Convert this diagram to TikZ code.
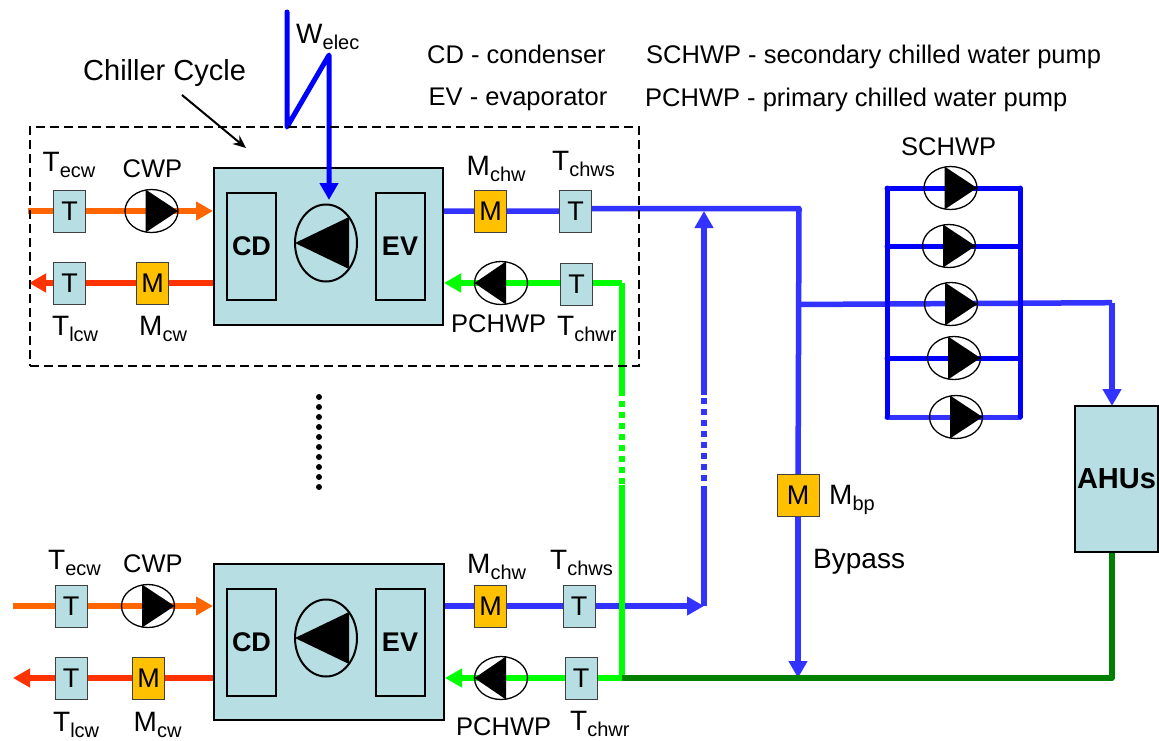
\documentclass[tikz,border=0pt]{standalone}
\usepackage{fontspec}
\setmainfont{Liberation Sans}
\usepackage{tikz}
\usetikzlibrary{shapes,arrows.meta,backgrounds}

\newcommand{\subtext}[2]{#1\raisebox{-6.5pt}{\fontsize{20}{20}\selectfont #2}}

\definecolor{chillerfill}{HTML}{B7DEE2}
\definecolor{meterfill}{HTML}{FFC000}
\definecolor{cwsupply}{HTML}{FF6600}
\definecolor{cwreturn}{HTML}{FF3300}
\definecolor{chwblue}{HTML}{3333FF}
\definecolor{darkreturn}{HTML}{008000}

\tikzset{
  pipetip/.style={-{Triangle[length=17pt,width=18pt]}},
  pipe/.style={line width=5.5pt,line join=round},
  cwpipe/.style={line width=6.5pt,line join=round},
  greenpipe/.style={line width=6pt,line join=round,green},
  elecpipe/.style={line width=5pt,blue,line join=round,line cap=round},
  sensorbox/.style={draw=black!75,line width=1pt,fill=chillerfill,minimum width=32pt,minimum height=42pt,inner sep=0pt,font=\fontsize{27}{27}\selectfont},
  meterbox/.style={draw=black!75,line width=1pt,fill=meterfill,minimum width=32pt,minimum height=42pt,inner sep=0pt,font=\fontsize{27}{27}\selectfont},
  unitbox/.style={draw,line width=2pt,minimum width=49pt,minimum height=107pt,inner sep=0pt,font=\bfseries\fontsize{27}{27}\selectfont},
  bigbox/.style={draw,line width=2pt,fill=chillerfill,inner sep=0pt},
  pumpright/.style={ellipse,draw,line width=1.3pt,minimum width=53pt,minimum height=43pt,inner sep=0pt,
    path picture={\fill ([xshift=-6pt]path picture bounding box.north) -- (path picture bounding box.east) -- ([xshift=-6pt]path picture bounding box.south) -- cycle;}},
  pumpleft/.style={ellipse,draw,line width=1.3pt,minimum width=53pt,minimum height=43pt,inner sep=0pt,
    path picture={\fill ([xshift=5pt]path picture bounding box.north) -- (path picture bounding box.west) -- ([xshift=5pt]path picture bounding box.south) -- cycle;}},
  compressor/.style={ellipse,draw,line width=2pt,minimum width=62pt,minimum height=77pt,inner sep=0pt,
    path picture={\fill (path picture bounding box.west) -- ([xshift=23pt,yshift=26pt]path picture bounding box.center) -- ([xshift=23pt,yshift=-26pt]path picture bounding box.center) -- cycle;}},
  lbl/.style={anchor=base west,inner sep=0pt,font=\fontsize{25.5}{25.5}\selectfont},
  symlbl/.style={anchor=base west,inner sep=0pt,font=\fontsize{28}{28}\selectfont}
}

\begin{document}
\begin{tikzpicture}[x=1pt,y=-1pt]
\useasboundingbox (0,0) rectangle (1159,740);

\begin{scope}[on background layer]
\node[bigbox,minimum width=229pt,minimum height=157pt] (chillerA) at (328.5,246.5) {};
\node[bigbox,minimum width=230pt,minimum height=156pt] (chillerB) at (329,642) {};
\end{scope}

% upper chiller
\node[unitbox] (cdA) at (251.5,246.5) {CD};
\node[unitbox] (evA) at (400,246.5) {EV};
\node[compressor] (compA) at (326,243) {};
\node[sensorbox] (tEcwA) at (69.5,211) {T};
\node[sensorbox] (tLcwA) at (69.5,283) {T};
\node[pumpright] (cwpA) at (151.5,211) {};
\node[meterbox] (mCwA) at (152.5,283) {M};
\node[meterbox] (mChwA) at (490.5,211) {M};
\node[sensorbox] (tChwsA) at (575.5,211) {T};
\node[pumpleft] (pchwpA) at (501,283) {};
\node[sensorbox] (tChwrA) at (576.5,284) {T};

% lower chiller
\node[unitbox] (cdB) at (251.5,642) {CD};
\node[unitbox] (evB) at (400,642) {EV};
\node[compressor] (compB) at (326,638) {};
\node[sensorbox] (tEcwB) at (71,606) {T};
\node[sensorbox] (tLcwB) at (71,678) {T};
\node[pumpright] (cwpB) at (148,606) {};
\node[meterbox] (mCwB) at (148.5,678) {M};
\node[meterbox] (mChwB) at (490.5,606) {M};
\node[sensorbox] (tChwsB) at (579,606) {T};
\node[pumpleft] (pchwpB) at (501,678) {};
\node[sensorbox] (tChwrB) at (581,678) {T};

% secondary pumps, bypass, AHUs
\node[pumpright] (schwpA) at (950.5,188) {};
\node[pumpright] (schwpB) at (949,246) {};
\node[pumpright] (schwpC) at (951,304) {};
\node[pumpright] (schwpD) at (954,358) {};
\node[pumpright] (schwpE) at (956,417) {};
\node[meterbox,minimum width=42pt] (mBp) at (798,495) {M};
\node[draw,line width=2pt,fill=chillerfill,minimum width=83pt,minimum height=146pt,inner sep=0pt,font=\bfseries\fontsize{29}{29}\selectfont] (ahus) at (1116.5,479) {AHUs};

\coordinate (ecwInA) at (28,211);
\coordinate (lcwOutA) at (29,283);
\coordinate (ecwInB) at (13,606);
\coordinate (lcwOutB) at (13,678);
\coordinate (supplyCorner) at (799,208.5);
\coordinate (bypassTee) at (798,304.5);
\coordinate (bypassEnd) at (798,678);
\coordinate (ahuCorner) at (1112,302.7);
\coordinate (ahuIn) at (1112,406);
\coordinate (ahuOut) at (1112,552);
\coordinate (returnCorner) at (1112,678);
\coordinate (greenTop) at (622,283);
\coordinate (greenB) at (622,390);
\coordinate (greenC) at (622,485);
\coordinate (greenEnd) at (622,678);
\coordinate (riserBottom) at (704,606);
\coordinate (riserB) at (704,492);
\coordinate (riserC) at (704,395);
\coordinate (riserTop) at (704,211);
\coordinate (railLT) at (887,188);
\coordinate (railLB) at (887,417);
\coordinate (railRT) at (1020,188);
\coordinate (railRB) at (1020,417);
\coordinate (railLtwo) at (887,246);
\coordinate (railRtwo) at (1020,246);
\coordinate (railLfour) at (887,358);
\coordinate (railRfour) at (1020,358);
\coordinate (elecTop) at (287,12);
\coordinate (elecLow) at (287,127);
\coordinate (elecHigh) at (329,55);
\coordinate (elecEnd) at (329,200);
\coordinate (dotsTop) at (319,397);
\coordinate (dotsEnd) at (319,488);
\coordinate (cycleFrom) at (182,95);
\coordinate (cycleTo) at (246,148);

\begin{scope}[on background layer]
% water circuits
\draw[cwpipe,cwsupply,pipetip] (ecwInA) -- (tEcwA.center) -- (cwpA.center) -- (chillerA.west |- tEcwA);
\draw[cwpipe,cwreturn,pipetip] (chillerA.west |- tLcwA) -- (mCwA.center) -- (tLcwA.center) -- (lcwOutA);
\draw[cwpipe,cwsupply,pipetip] (ecwInB) -- (tEcwB.center) -- (cwpB.center) -- (chillerB.west |- tEcwB);
\draw[cwpipe,cwreturn,pipetip] (chillerB.west |- tLcwB) -- (mCwB.center) -- (tLcwB.center) -- (lcwOutB);
\draw[pipe,chwblue] (chillerA.east |- mChwA) -- (mChwA.center) -- (tChwsA.center) -- (tChwsA.center |- supplyCorner) -- (supplyCorner) -- (mBp.center);
\draw[pipe,chwblue,pipetip] (mBp.center) -- (bypassEnd);
\draw[pipe,chwblue,pipetip] (chillerB.east |- mChwB) -- (mChwB.center) -- (tChwsB.center) -- (riserBottom);
\draw[greenpipe,pipetip] (greenTop) -- (tChwrA.center |- greenTop) -- (pchwpA.center) -- (chillerA.east |- pchwpA);
\draw[greenpipe,pipetip] (greenEnd) -- (tChwrB.center) -- (pchwpB.center) -- (chillerB.east |- pchwpB);
\draw[greenpipe] (greenTop) -- (greenB);
\draw[greenpipe,dash pattern=on 6pt off 5pt] (greenB) -- (greenC);
\draw[greenpipe] (greenC) -- (greenEnd);
\draw[pipe,chwblue] (riserBottom) -- (riserB);
\draw[pipe,chwblue,dash pattern=on 6pt off 5pt] (riserB) -- (riserC);
\draw[pipe,chwblue,pipetip] (riserC) -- (riserTop);
\draw[pipe,darkreturn] (ahuOut) -- (returnCorner) -- (greenEnd);
% secondary header
\draw[pipe,chwblue] (bypassTee) -- (ahuCorner);
\draw[pipe,chwblue,pipetip] (ahuCorner) -- (ahuIn);
\draw[elecpipe] (railLT) -- (schwpA.center) -- (railRT);
\draw[elecpipe] (railLtwo) -- (schwpB.center) -- (railRtwo);
\draw[elecpipe] (railLfour) -- (schwpD.center) -- (railRfour);
\draw[elecpipe,chwblue] (railLB) -- (schwpE.center) -- (railRB);
\draw[elecpipe] (railLT) -- (railLB);
\draw[elecpipe] (railRT) -- (railRB);
% power in
\draw[elecpipe,pipetip] (elecTop) -- (elecLow) -- (elecHigh) -- (elecEnd);
\end{scope}

% the one chiller cycle
\node[draw,dash pattern=on 9pt off 5pt,line width=1.6pt,minimum width=609pt,minimum height=239pt,inner sep=0pt] (cycleBox) at (334.5,246.5) {};
\draw[line width=2pt,-{Stealth[length=13pt,width=11pt]}] (cycleFrom) -- (cycleTo);
\draw[line width=6pt,line cap=round,dash pattern=on 0pt off 10pt] (dotsTop) -- (dotsEnd);

% labels
\node[lbl,font=\fontsize{29}{29}\selectfont] (chillerText) at (83,80) {Chiller Cycle};
\node[symlbl] (wElec) at (296,43) {\subtext{W}{elec}};
\node[lbl] (cdText) at (427,63) {CD - condenser};
\node[lbl] (evText) at (428.5,105) {EV - evaporator};
\node[lbl] (schwpText) at (646,63) {SCHWP - secondary chilled water pump};
\node[lbl] (pchwpText) at (645,106) {PCHWP - primary chilled water pump};
\node[symlbl] (tEcwTextA) at (42.5,171) {\subtext{T}{ecw}};
\node[lbl] (cwpTextA) at (122.5,177) {CWP};
\node[symlbl] (mChwTextA) at (466.5,175) {\subtext{M}{chw}};
\node[symlbl] (tChwsTextA) at (552,170) {\subtext{T}{chws}};
\node[symlbl] (tLcwTextA) at (52,335) {\subtext{T}{lcw}};
\node[symlbl] (mCwTextA) at (139,335) {\subtext{M}{cw}};
\node[lbl] (pchwpTextA) at (451,332) {PCHWP};
\node[symlbl] (tChwrTextA) at (557,335) {\subtext{T}{chwr}};
\node[symlbl] (tEcwTextB) at (48,569) {\subtext{T}{ecw}};
\node[lbl] (cwpTextB) at (123,572) {CWP};
\node[symlbl] (mChwTextB) at (467,573) {\subtext{M}{chw}};
\node[symlbl] (tChwsTextB) at (550,569) {\subtext{T}{chws}};
\node[symlbl] (tLcwTextB) at (53,731) {\subtext{T}{lcw}};
\node[symlbl] (mCwTextB) at (133.5,731) {\subtext{M}{cw}};
\node[lbl] (pchwpTextB) at (456,735) {PCHWP};
\node[symlbl] (tChwrTextB) at (570,730) {\subtext{T}{chwr}};
\node[lbl] (schwpTitle) at (901,155) {SCHWP};
\node[symlbl] (mBpText) at (829,504) {\subtext{M}{bp}};
\node[lbl,font=\fontsize{28}{28}\selectfont] (bypassText) at (813,568) {Bypass};
\end{tikzpicture}
\end{document}
